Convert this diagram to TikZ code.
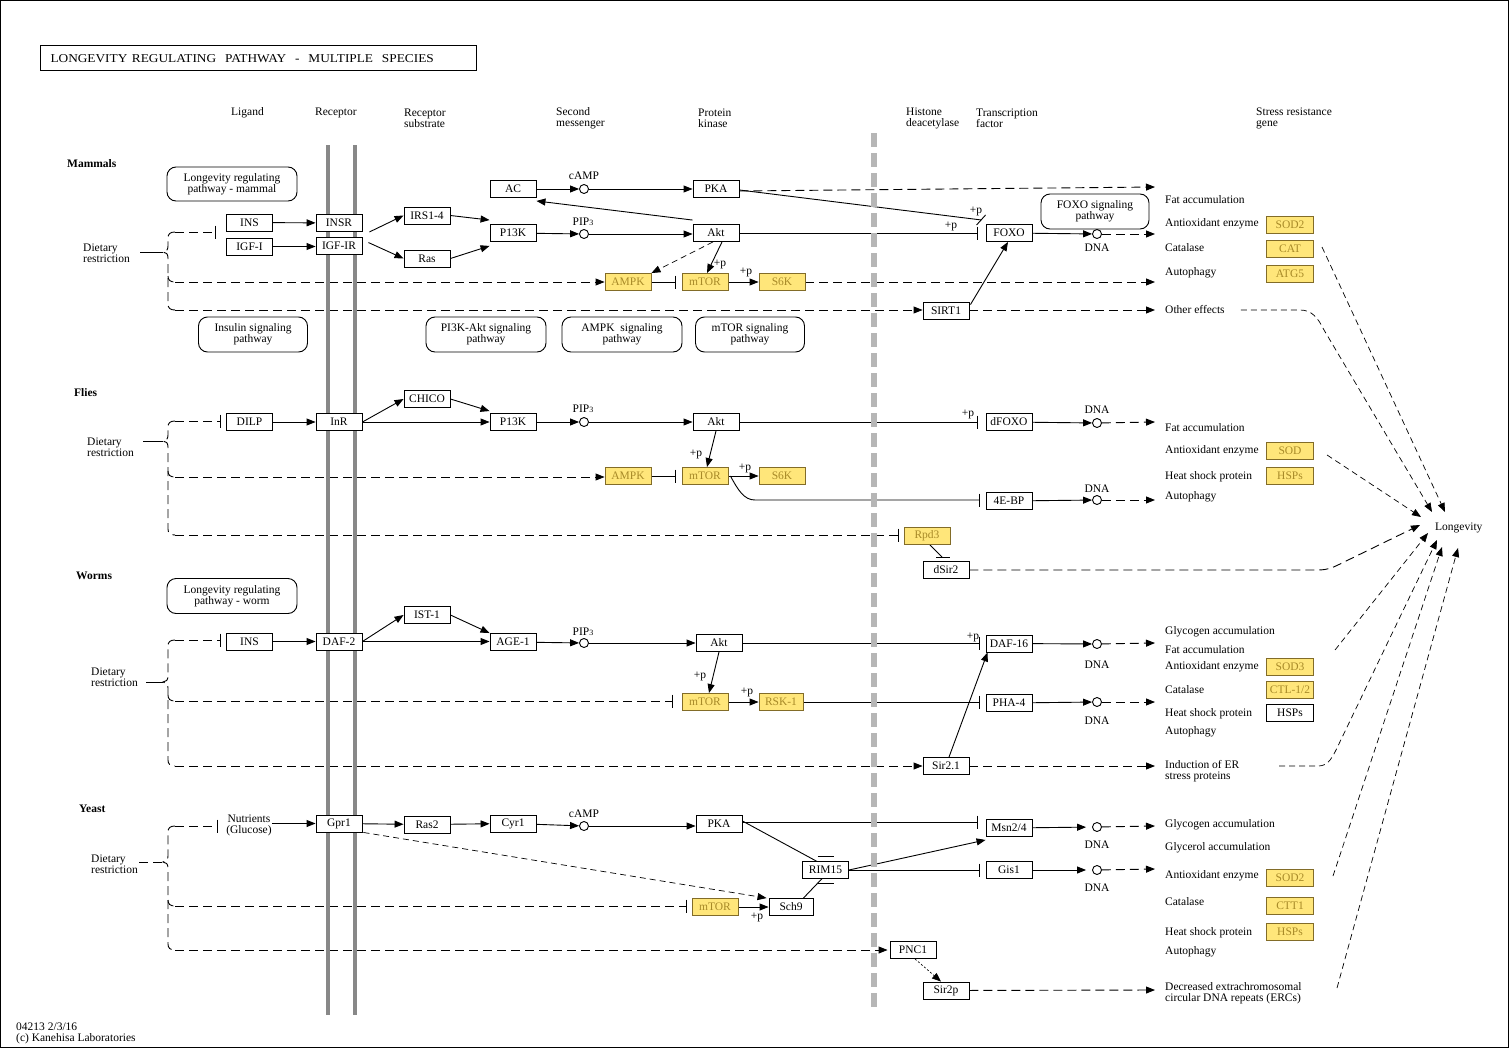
\documentclass[tikz,border=0pt]{standalone}
\usepackage{fontspec}
\setmainfont{Liberation Serif}
\usetikzlibrary{arrows.meta,calc}
\definecolor{kfill}{RGB}{255,230,122}
\definecolor{ktext}{RGB}{168,138,40}
\definecolor{kdraw}{RGB}{130,108,40}
\definecolor{kmemb}{RGB}{136,136,136}
\definecolor{knuc}{RGB}{182,182,182}
\pgfdeclarelayer{edgelayer}
\pgfdeclarelayer{memlayer}
\pgfsetlayers{edgelayer,memlayer,main}
\newcommand{\kf}{\fontsize{11.5}{11}\selectfont}
% brace: #1 prefix, #2 tip y, #3 top y, #4 mid y, #5 bottom y
\newcommand{\kbr}[5]{%
  \coordinate (#1T) at (175,#3);
  \coordinate (#1M) at (175,#4);
  \coordinate (#1B) at (175,#5);
  \coordinate (#1P) at (163,#2);
  \draw[ln,dsh] (#1T) .. controls +(-5,0) and +(0,-4) .. (168,#3+6) -- (168,#2-6)
     .. controls +(0,4) and +(3,0) .. (#1P) .. controls +(3,0) and +(0,-4) .. (168,#2+6)
     -- (168,#5-6) .. controls +(0,4) and +(-5,0) .. (#1B);
  \draw[ln,dsh] (168,#4-6) .. controls +(0,4) and +(-5,0) .. (#1M);
}
\begin{document}
\begin{tikzpicture}[x=1pt,y=-1pt,
  every node/.style={font=\kf, inner sep=0pt},
  box/.style={draw, line width=0.9pt, minimum width=46pt, minimum height=17pt, fill=white},
  ybox/.style={box, fill=kfill, draw=kdraw, text=ktext},
  gbox/.style={ybox, minimum width=47pt},
  bub/.style={draw, line width=0.9pt, rounded corners=9pt, align=center},
  circ/.style={draw, circle, minimum size=9pt, line width=0.9pt, fill=white},
  lbl/.style={anchor=west, align=left},
  sp/.style={anchor=west, font=\kf\bfseries},
  ln/.style={line width=0.9pt},
  arr/.style={ln, -{Triangle[length=9pt,width=7pt]}},
  inh/.style={ln, -{Bar[width=13pt,line width=0.9pt]}},
  dsh/.style={dash pattern=on 9pt off 5pt},
  fdsh/.style={line width=0.7pt, dash pattern=on 6pt off 4pt},
  dotl/.style={line width=0.7pt, dash pattern=on 2pt off 2pt},
]
\useasboundingbox (0,0) rectangle (1510,1049);
\draw[line width=1pt] (0.5,0.5) rectangle (1508.5,1047.5);

% title
\node[draw, line width=1pt, anchor=west, minimum width=436pt, minimum height=25pt,
      text width=416pt, inner xsep=10pt, align=left, font=\fontsize{12}{12}\selectfont] (title) at (40,58.5)
      {\scalebox{1.11}[1]{LONGEVITY REGULATING\ \ PATHWAY\ \ -\ \ MULTIPLE\ \ SPECIES}};

% headers
\node[lbl] (h1) at (231,112.5) {Ligand};
\node[lbl] (h2) at (315,112.5) {Receptor};
\node[lbl] (h3) at (404,118.5) {Receptor\\substrate};
\node[lbl] (h4) at (556,118.5) {Second\\messenger};
\node[lbl] (h5) at (698,118.5) {Protein\\kinase};
\node[lbl] (h6) at (906,118.5) {Histone\\deacetylase};
\node[lbl] (h7) at (976,118.5) {Transcription\\factor};
\node[lbl] (h8) at (1256,118.5) {Stress resistance\\gene};

% species
\node[sp] (sM) at (67,163.5) {Mammals};
\node[sp] (sF) at (74,392.5) {Flies};
\node[sp] (sW) at (76,575.5) {Worms};
\node[sp] (sY) at (79,808.5) {Yeast};

% footer
\node[lbl] (ft1) at (16,1027) {04213 2/3/16};
\node[lbl] (ft2) at (16,1038.5) {(c) Kanehisa Laboratories};

% membranes
\begin{pgfonlayer}{memlayer}
\draw[kmemb, line width=4pt] (328,145) -- (328,1015);
\draw[kmemb, line width=4pt] (355,145) -- (355,1015);
\draw[knuc, line width=6pt, dash pattern=on 14pt off 6pt] (874,133) -- (874,1007);
\end{pgfonlayer}

% ================= MAMMALS =================
\node[bub, minimum width=130pt, minimum height=34pt] (mLRP) at (232,184) {Longevity regulating\\pathway - mammal};
\node[bub, minimum width=109pt, minimum height=35pt] (mISP) at (253,334.5) {Insulin signaling\\pathway};
\node[bub, minimum width=120pt, minimum height=35pt] (mPAP) at (486,334.5) {PI3K-Akt signaling\\pathway};
\node[bub, minimum width=120pt, minimum height=35pt] (mASP) at (622,334.5) {AMPK\ \ signaling\\pathway};
\node[bub, minimum width=109pt, minimum height=35pt] (mTSP) at (750,334.5) {mTOR signaling\\pathway};
\node[bub, minimum width=108pt, minimum height=35pt] (mFSP) at (1095,211.5) {FOXO signaling\\pathway};

\node[lbl] (mDR) at (83,253.5) {Dietary\\restriction};
\node[box] (mINS) at (249.5,222.5) {INS};
\node[box] (mIGF) at (249.5,246.5) {IGF-I};
\node[box] (mINSR) at (339,223) {INSR};
\node[box] (mIGFR) at (339,245.5) {IGF-IR};
\node[box] (mIRS) at (427,215.5) {IRS1-4};
\node[box] (mRas) at (427,258.5) {Ras};
\node[box] (mPI3K) at (513,233) {P13K};
\node[box] (mAC) at (513,189) {AC};
\node[circ] (mcAMP) at (584,189) {};
\node (mcAMPl) at (584,176) {cAMP};
\node[circ] (mPIP) at (584,234) {};
\node (mPIPl) at (583,222) {PIP{\fontsize{8}{8}\selectfont 3}};
\node[box] (mPKA) at (716,189) {PKA};
\node[box] (mAkt) at (716,233) {Akt};
\node[ybox] (mAMPK) at (628,282) {AMPK};
\node[ybox] (mmTOR) at (705,282) {mTOR};
\node[ybox] (mS6K) at (782,282) {S6K};
\node[box] (mSIRT) at (946,310.5) {SIRT1};
\node[box] (mFOXO) at (1009,233) {FOXO};
\node[circ] (mDNA) at (1097,234) {};
\node (mDNAl) at (1097,248) {DNA};
\node (mp1) at (720,264) {+p};
\node (mp2) at (746,272) {+p};
\node (mp3) at (951,226) {+p};
\node (mp4) at (976,211) {+p};
\node[lbl] (mt1) at (1165,200) {Fat accumulation};
\node[lbl] (mt2) at (1165,224) {Antioxidant enzyme};
\node[lbl] (mt3) at (1165,248) {Catalase};
\node[lbl] (mt4) at (1165,273) {Autophagy};
\node[lbl] (mt5) at (1165,310) {Other effects};
\node[gbox] (mSOD2) at (1290,225) {SOD2};
\node[gbox] (mCAT) at (1290,248.5) {CAT};
\node[gbox] (mATG5) at (1290,273.5) {ATG5};
\coordinate (mE1) at (1155,187);
\coordinate (mE2) at (1155,234);
\coordinate (mE3) at (1155,281);
\coordinate (mE4) at (1155,310);
\coordinate (mDl) at (140,252);

% ================= FLIES =================
\node[lbl] (fDR) at (87,447) {Dietary\\restriction};
\node[box] (fDILP) at (249.5,422) {DILP};
\node[box] (fInR) at (339,422) {InR};
\node[box] (fCHICO) at (427,399) {CHICO};
\node[box] (fPI3K) at (513,422) {P13K};
\node[circ] (fPIP) at (584,422) {};
\node (fPIPl) at (583,409) {PIP{\fontsize{8}{8}\selectfont 3}};
\node[box] (fAkt) at (716,422) {Akt};
\node[box] (fFOXO) at (1009,422) {dFOXO};
\node[circ] (fDNA1) at (1097,423) {};
\node (fDNA1l) at (1097,410) {DNA};
\node[ybox] (fAMPK) at (628,476) {AMPK};
\node[ybox] (fmTOR) at (705,476) {mTOR};
\node[ybox] (fS6K) at (782,476) {S6K};
\node[box] (f4EBP) at (1009,501) {4E-BP};
\node[circ] (fDNA2) at (1097,500) {};
\node (fDNA2l) at (1097,489) {DNA};
\node[ybox] (fRpd3) at (927,536) {Rpd3};
\node[box] (fSir2) at (946,570) {dSir2};
\node (fp1) at (696,454) {+p};
\node (fp2) at (745,468) {+p};
\node (fp3) at (968,414) {+p};
\node[lbl] (ft1) at (1165,428) {Fat accumulation};
\node[lbl] (ft2) at (1165,451) {Antioxidant enzyme};
\node[lbl] (ft3) at (1165,477) {Heat shock protein};
\node[lbl] (ft4) at (1165,497) {Autophagy};
\node[gbox] (fSOD) at (1290,450.5) {SOD};
\node[gbox] (fHSP) at (1290,476) {HSPs};
\coordinate (fE1) at (1155,422);
\coordinate (fE2) at (1155,500);
\coordinate (fDl) at (143,441);

% ================= WORMS =================
\node[bub, minimum width=130pt, minimum height=35pt] (wLRP) at (232,596) {Longevity regulating\\pathway - worm};
\node[lbl] (wDR) at (91,677.5) {Dietary\\restriction};
\node[box] (wINS) at (249.5,641.5) {INS};
\node[box] (wDAF2) at (339,641.5) {DAF-2};
\node[box] (wIST) at (427,615) {IST-1};
\node[box] (wAGE) at (513,642) {AGE-1};
\node[circ] (wPIP) at (584,643) {};
\node (wPIPl) at (583,632) {PIP{\fontsize{8}{8}\selectfont 3}};
\node[box] (wAkt) at (719,643) {Akt};
\node[box] (wDAF16) at (1009,643.5) {DAF-16};
\node[circ] (wDNA1) at (1097,644) {};
\node (wDNA1l) at (1097,665) {DNA};
\node[ybox] (wmTOR) at (705,702) {mTOR};
\node[ybox, minimum width=44pt] (wRSK) at (781,702) {RSK-1};
\node[box] (wPHA) at (1009,703) {PHA-4};
\node[circ] (wDNA2) at (1097,702) {};
\node (wDNA2l) at (1097,721) {DNA};
\node[box] (wSir) at (946,766) {Sir2.1};
\node (wp1) at (700,676) {+p};
\node (wp2) at (747,692) {+p};
\node (wp3) at (973,637) {+p};
\node[lbl] (wt1) at (1165,632) {Glycogen accumulation};
\node[lbl] (wt2) at (1165,650) {Fat accumulation};
\node[lbl] (wt3) at (1165,667) {Antioxidant enzyme};
\node[lbl] (wt4) at (1165,690) {Catalase};
\node[lbl] (wt5) at (1165,714) {Heat shock protein};
\node[lbl] (wt6) at (1165,732) {Autophagy};
\node[lbl] (wt7) at (1165,771.5) {Induction of ER\\stress proteins};
\node[gbox] (wSOD3) at (1290,667) {SOD3};
\node[gbox] (wCTL) at (1290,690) {CTL-1/2};
\node[box, minimum width=47pt] (wHSP) at (1290,713) {HSPs};
\coordinate (wE1) at (1155,643);
\coordinate (wE2) at (1155,702);
\coordinate (wE3) at (1155,766);
\coordinate (wDl) at (146,682);

% ================= YEAST =================
\node[align=center] (yNut) at (249,825) {Nutrients\\(Glucose)};
\node[lbl] (yDR) at (91,864.5) {Dietary\\restriction};
\node[box] (yGpr) at (339,823.5) {Gpr1};
\node[box] (yRas2) at (427,824.5) {Ras2};
\node[box] (yCyr) at (513,823.5) {Cyr1};
\node[circ] (ycAMP) at (584,826) {};
\node (ycAMPl) at (584,814) {cAMP};
\node[box] (yPKA) at (719,824) {PKA};
\node[box] (yMsn) at (1009,828) {Msn2/4};
\node[circ] (yDNA1) at (1097,827) {};
\node (yDNA1l) at (1097,845) {DNA};
\node[box] (yRIM) at (825.5,870) {RIM15};
\node[box] (yGis) at (1009,870) {Gis1};
\node[circ] (yDNA2) at (1097,870) {};
\node (yDNA2l) at (1097,888) {DNA};
\node[ybox] (ymTOR) at (715,907) {mTOR};
\node[box, minimum width=44pt] (ySch9) at (791,907) {Sch9};
\node[box] (yPNC) at (913,950) {PNC1};
\node[box] (ySir2p) at (946,990.5) {Sir2p};
\node (yp1) at (757,917) {+p};
\node[lbl] (yt1) at (1165,825) {Glycogen accumulation};
\node[lbl] (yt2) at (1165,848) {Glycerol accumulation};
\node[lbl] (yt3) at (1165,876) {Antioxidant enzyme};
\node[lbl] (yt4) at (1165,902) {Catalase};
\node[lbl] (yt5) at (1165,933) {Heat shock protein};
\node[lbl] (yt6) at (1165,952) {Autophagy};
\node[lbl] (yt7) at (1165,993.5) {Decreased extrachromosomal\\circular DNA repeats (ERCs)};
\node[gbox] (ySOD2) at (1290,878) {SOD2};
\node[gbox] (yCTT) at (1290,905.5) {CTT1};
\node[gbox] (yHSP) at (1290,932) {HSPs};
\coordinate (yE1) at (1155,826);
\coordinate (yE2) at (1155,869);
\coordinate (yE3) at (1155,990);
\coordinate (yDl) at (139,862);

% Longevity
\node[lbl] (Long) at (1435,528) {Longevity};
\coordinate (L1) at (1432,512);
\coordinate (L2) at (1445,512);
\coordinate (L3) at (1421,517);
\coordinate (L4) at (1420,525);
\coordinate (L5) at (1428,533);
\coordinate (L6) at (1437,540);
\coordinate (L7) at (1442,547);
\coordinate (L8) at (1458,548);
\coordinate (G2) at (1322,247);
\coordinate (G3) at (1327,455);
\coordinate (G5) at (1335,650);
\coordinate (G6) at (1279,766);
\coordinate (G7) at (1333,876);
\coordinate (G8) at (1337,988);

% ================= EDGES =================
\begin{pgfonlayer}{edgelayer}
% --- mammals
\kbr{m}{252}{232}{282}{310}
\draw[ln] (mDl) -- (mP);
\draw[inh,dsh,shorten >=10pt] (mT) -- (mT -| mINS.west);
\draw[arr,dsh] (mM) -- (mM -| mAMPK.west);
\draw[arr,dsh] (mB) -- (mB -| mSIRT.west);
\draw[arr] (mINS) -- (mINSR);
\draw[arr] (mIGF.east) -- (mIGF.east -| mIGFR.west);
\draw[arr] ([xshift=7]mINSR.south east) -- (mIRS.west);
\draw[arr] ([shift={(6,6)}]mIGFR.north east) -- (mRas.west);
\draw[arr] (mIRS.east) -- ([yshift=4]mPI3K.north west);
\draw[arr] (mRas.east) -- ([yshift=-4]mPI3K.south west);
\draw[arr] (mPI3K) -- (mPIP);
\draw[arr] (mPIP) -- (mPIP -| mAkt.west);
\draw[arr] (mAC) -- (mcAMP);
\draw[arr] (mcAMP) -- (mPKA);
\draw[arr] ([yshift=4]mAkt.north west) -- ([yshift=-3]mAC.south east);
\draw[arr,dsh] ([yshift=-2]mPKA.east) -- (mE1);
\draw[ln] ([yshift=-1]mPKA.east) -- ([shift={(-4,-13)}]mFOXO.west) coordinate (mPF);
\draw[ln] ([shift={(-5,5)}]mPF) -- ([shift={(4,-5)}]mPF);
\draw[inh,shorten >=8pt] (mAkt) -- (mFOXO);
\draw[arr] (mFOXO) -- (mDNA);
\draw[arr,dsh] (mDNA) -- (mE2);
\draw[arr,fdsh] ([xshift=-3]mAkt.south) -- (mAMPK.north east);
\draw[arr] ([xshift=6]mAkt.south) -- ([xshift=2]mmTOR.north);
\draw[inh,shorten >=6pt] (mAMPK) -- (mmTOR);
\draw[arr] (mmTOR) -- (mS6K);
\draw[arr,dsh] (mS6K.east) -- (mS6K.east -| mE3);
\draw[arr] ([shift={(1,3)}]mSIRT.north east) -- ([xshift=-1]mFOXO.south);
\draw[arr,dsh] (mSIRT.east |- mE4) -- (mE4);
\draw[arr,fdsh] ([xshift=16]mt5.east) -- (1300,310) .. controls (1312,310) and (1318,318) .. (1324,330) -- (L1);
\draw[arr,fdsh] (G2) -- (L2);

% --- flies
\kbr{f}{441}{421}{477}{535}
\draw[ln] (fDl) -- (fP);
\draw[inh,dsh,shorten >=5pt] (fT) -- (fT -| fDILP.west);
\draw[arr,dsh] (fM) -- (fM -| fAMPK.west);
\draw[inh,dsh,shorten >=5pt] (fB) -- (fB -| fRpd3.west);
\draw[arr] (fDILP) -- (fInR);
\draw[arr] (fInR.east) -- (fCHICO.west);
\draw[arr] (fInR) -- (fPI3K);
\draw[arr] (fCHICO.east) -- ([yshift=2]fPI3K.north west);
\draw[arr] (fPI3K) -- (fPIP);
\draw[arr] (fPIP) -- (fPIP -| fAkt.west);
\draw[inh,shorten >=8pt] (fAkt) -- (fFOXO);
\draw[arr] (fFOXO) -- (fDNA1);
\draw[arr,dsh] (fDNA1) -- (fE1);
\draw[arr] (fAkt.south) -- ([xshift=2]fmTOR.north);
\draw[inh,shorten >=6pt] (fAMPK) -- (fmTOR);
\draw[arr] (fmTOR) -- (fS6K);
\draw[inh,shorten >=6pt] ([xshift=2]fmTOR.east) .. controls (738,490) and (744,500) .. (755,500) -- (f4EBP.west |- 755,500);
\draw[arr] (f4EBP) -- (fDNA2);
\draw[arr,dsh] (fDNA2) -- (fE2);
\draw[ln] ([xshift=3]fRpd3.south) -- ([shift={(-4,-4)}]fSir2.north);
\draw[ln] ([shift={(-10,-4)}]fSir2.north) -- ([shift={(4,-4)}]fSir2.north);
\draw[arr,dsh] (fSir2.east) -- (1318,570) .. controls (1328,570) and (1334,567) .. (1342,563) -- (L4);
\draw[arr,fdsh] (G3) -- (L3);

% --- worms
\kbr{w}{682}{640}{701}{766}
\draw[ln] (wDl) -- (wP);
\draw[inh,dsh,shorten >=5pt] (wT) -- (wT -| wINS.west);
\draw[inh,dsh,shorten >=9pt] (wM) -- (wM -| wmTOR.west);
\draw[arr,dsh] (wB) -- (wB -| wSir.west);
\draw[arr] (wINS) -- (wDAF2);
\draw[arr] (wDAF2.east) -- (wIST.west);
\draw[arr] (wDAF2) -- (wDAF2 -| wAGE.west);
\draw[arr] (wIST.east) -- (wAGE.north west);
\draw[arr] (wAGE) -- (wPIP);
\draw[arr] (wPIP) -- (wPIP -| wAkt.west);
\draw[inh,shorten >=6pt] (wAkt) -- (wAkt -| wDAF16.west);
\draw[arr] (wDAF16) -- (wDNA1);
\draw[arr,dsh] (wDNA1) -- (wE1);
\draw[arr] (wAkt.south) -- ([xshift=4]wmTOR.north);
\draw[arr] (wmTOR) -- (wRSK);
\draw[inh,shorten >=6pt] (wRSK) -- (wRSK -| wPHA.west);
\draw[arr] (wPHA) -- (wDNA2);
\draw[arr,dsh] (wDNA2) -- (wE2);
\draw[arr] ([xshift=3]wSir.north) -- ([xshift=2]wDAF16.south west);
\draw[arr,dsh] (wSir) -- (wE3);
\draw[arr,fdsh] (G6) -- (1318,766) .. controls (1327,766) and (1331,760) .. (1336,750) -- (L6);
\draw[arr,fdsh] (G5) -- (L5);

% --- yeast
\kbr{y}{862}{826}{906}{950}
\draw[ln,dsh] (yDl) -- (yP);
\draw[inh,dsh,shorten >=8pt] (yT) -- (yT -| yNut.west);
\draw[inh,dsh,shorten >=5pt] (yM) -- (yM -| ymTOR.west);
\draw[arr,dsh,shorten >=2pt] (yB) -- (yB -| yPNC.west);
\draw[arr] (yNut.east |- yGpr.west) -- (yGpr.west);
\draw[arr] (yGpr) -- (yRas2);
\draw[arr] (yRas2) -- (yCyr);
\draw[arr] (yCyr) -- (ycAMP);
\draw[arr] (ycAMP) -- (ycAMP -| yPKA.west);
\draw[inh,shorten >=8pt] ([yshift=2]yPKA.east) -- ([yshift=2]yPKA.east -| yMsn.west);
\draw[ln] ([yshift=3]yPKA.east) -- ([yshift=-5]yRIM.north);
\draw[ln] ([shift={(-8,-4.5)}]yRIM.north) -- ([shift={(8,-4.5)}]yRIM.north);
\draw[ln] ([xshift=-10]ySch9.north east) -- ([yshift=4]yRIM.south);
\draw[ln] ([shift={(-8,4)}]yRIM.south) -- ([shift={(8,4)}]yRIM.south);
\draw[arr,fdsh] ([xshift=1]yGpr.south east) -- ([xshift=-2]ySch9.north west);
\draw[arr] (ymTOR) -- (ySch9);
\draw[arr] (yRIM.east) -- ([yshift=-3]yMsn.south west);
\draw[inh,shorten >=6pt] (yRIM) -- (yGis);
\draw[arr,shorten >=6pt] (yMsn) -- (yDNA1);
\draw[arr,shorten >=6pt] (yGis) -- (yDNA2);
\draw[arr,dsh] (yDNA1) -- (yE1);
\draw[arr,dsh] (yDNA2) -- (yE2);
\draw[arr,dotl] ([xshift=2]yPNC.south) -- ([xshift=-5]ySir2p.north);
\draw[arr,dsh] (ySir2p) -- (yE3);
\draw[arr,fdsh] (G7) -- (L7);
\draw[arr,fdsh] (G8) -- (L8);
\end{pgfonlayer}
\end{tikzpicture}
\end{document}
